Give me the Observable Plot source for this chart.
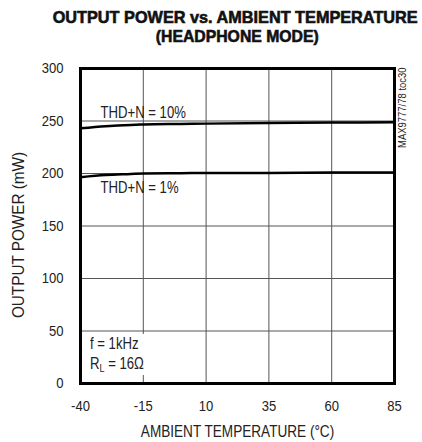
<!DOCTYPE html>
<html>
<head>
<meta charset="utf-8">
<script src="https://cdn.jsdelivr.net/npm/d3@7"></script>
<script src="https://cdn.jsdelivr.net/npm/@observablehq/plot@0.6"></script>
<style>
  html, body { margin: 0; padding: 0; background: #fff; }
  #wrap { position: relative; width: 422px; height: 442px; overflow: hidden;
    font-family: "Liberation Sans", Arial, sans-serif; }
  #title { position: absolute; left: 0; top: 0; width: 422px; height: 50px; color: #111; }
  .tl { position: absolute; white-space: nowrap; font-weight: bold; font-size: 16.5px; line-height: 14px;
    transform-origin: center center; -webkit-text-stroke: 0.6px #111; }
  #chart { position: absolute; left: 0; top: 50px; }
  #note { position: absolute; left: 82px; top: 334px; width: 70px; height: 41px; background: #fff; }
  #note div { position: absolute; left: 8px; white-space: nowrap; font-size: 16px; line-height: 18px; color: #222;
    transform: scaleX(0.82); transform-origin: left center; }
  #note sub { font-size: 11px; vertical-align: -3px; line-height: 0; }
</style>
</head>
<body>
<div id="wrap">
  <div id="title">
    <span class="tl" id="t1">OUTPUT POWER vs. AMBIENT TEMPERATURE</span>
    <span class="tl" id="t2">(HEADPHONE MODE)</span>
  </div>
  <div id="chart"></div>
  <div id="note"><div style="top:1px">f = 1kHz</div><div style="top:21px">R<sub>L</sub> = 16Ω</div></div>
</div>
<script>
const temps = [-40, -30, -20, -15, 0, 10, 35, 60, 85];
const thd10 = [243, 245, 246.3, 246.7, 247.2, 247.5, 248, 248.5, 248.8];
const thd1  = [196.5, 198.5, 199.5, 200, 200.3, 200.5, 200.5, 201, 201];
const xTicks = [-40, -15, 10, 35, 60, 85];
const yTicks = [0, 50, 100, 150, 200, 250, 300];
const curveLabels = ["THD+N = 10%", "THD+N = 1%"];
const labelX = [-32, -32];
const labelY = [258, 186];
const xTitle = "AMBIENT TEMPERATURE (°C)";
const yTitle = "OUTPUT POWER (mW)";
const sideNote = "MAX9777/78 toc30";

const rows = [];
temps.forEach((t, i) => {
  rows.push({t, p: thd10[i], s: curveLabels[0]});
  rows.push({t, p: thd1[i], s: curveLabels[1]});
});
const labels = curveLabels.map((text, i) => ({text, x: labelX[i], y: labelY[i]}));

const fmt = d => String(d);
const chart = Plot.plot({
  width: 422,
  height: 392,
  marginTop: 18,
  marginBottom: 59,
  marginLeft: 80,
  marginRight: 28,
  style: {fontFamily: '"Liberation Sans", Arial, sans-serif', fontSize: "15px", color: "#222", background: "#fff"},
  x: {domain: [-40, 85], ticks: xTicks, label: null},
  y: {domain: [0, 300], ticks: yTicks, label: null},
  marks: [
    Plot.gridX(xTicks, {stroke: "#555", strokeOpacity: 1, strokeWidth: 1}),
    Plot.gridY(yTicks, {stroke: "#555", strokeOpacity: 1, strokeWidth: 1}),
    Plot.axisX(xTicks, {tickSize: 0, tickPadding: 17, fontSize: 15, tickFormat: fmt, label: null}),
    Plot.axisY(yTicks, {tickSize: 0, tickPadding: 17, fontSize: 15, tickFormat: fmt, label: null}),
    Plot.text([xTitle], {frameAnchor: "bottom", dy: 48, lineAnchor: "middle", fontSize: 17, fill: "#222"}),
    Plot.text([yTitle], {frameAnchor: "left", dx: -62, dy: 9, rotate: -90, textAnchor: "middle", lineAnchor: "middle", fontSize: 17, fill: "#222"}),
    Plot.line(rows, {x: "t", y: "p", z: "s", stroke: "#000", strokeWidth: 2.5, curve: "monotone-x"}),
    Plot.text(labels, {x: "x", y: "y", text: "text", textAnchor: "start", fontSize: 16, fill: "#222"}),
    Plot.frame({stroke: "#000", strokeWidth: 3}),
    Plot.text([sideNote], {frameAnchor: "top-right", dx: 8, dy: -1, rotate: -90, textAnchor: "end", lineAnchor: "middle", fontSize: 11, fill: "#222"})
  ]
});
document.getElementById("chart").appendChild(chart);

// condense SVG texts horizontally (narrow Helvetica look), scaling about each text's anchor
const condense = {[xTitle]: 0.8, [yTitle]: 0.9, [sideNote]: 0.86};
chart.querySelectorAll("text").forEach(t => {
  const k = condense[t.textContent] ?? (/^[-\d]+$/.test(t.textContent) ? 0.87 : 0.82);
  const x = t.getAttribute("x");
  let tr = t.getAttribute("transform") || "";
  if (x != null && !/em$/.test(x)) {
    tr = tr + ` translate(${+x || 0},0)`;
    t.removeAttribute("x");
  }
  t.setAttribute("transform", (tr + ` scale(${k},1)`).trim());
});
function fit(id, targetW, cx, cy) {
  const el = document.getElementById(id);
  const r = el.getBoundingClientRect();
  el.style.left = (cx - r.width / 2) + "px";
  el.style.top = (cy - r.height / 2) + "px";
  el.style.transform = `scaleX(${targetW / r.width})`;
}
fit("t1", 365, 235.5, 16.5);
fit("t2", 163, 237, 35.5);
</script>
</body>
</html>
